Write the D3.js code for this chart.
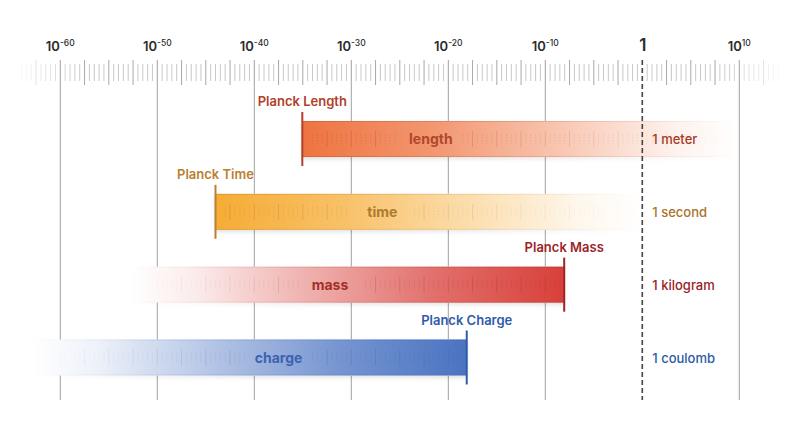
<!DOCTYPE html>
<html><head><meta charset="utf-8">
<script src="https://cdn.jsdelivr.net/npm/d3@7"></script>
<style>
html,body{margin:0;padding:0;background:#fff;}
svg{display:block;font-family:Inter,Roboto,"Noto Sans",sans-serif;}
</style></head>
<body>
<svg id="chart" width="800" height="424"></svg>
<script>
// ---- data ----
const majorExponents = [-60, -50, -40, -30, -20, -10, 0, 10];
const majorLabels = ["-60", "-50", "-40", "-30", "-20", "-10", "1", "10"];
const quantities = ["length", "time", "mass", "charge"];
const planckLabels = ["Planck Length", "Planck Time", "Planck Mass", "Planck Charge"];
const planckExponent = [-35.05, -44.0, -8.05, -18.1];   // log10 of Planck unit (as drawn)
const fadeExponent = [9.75, -0.2, -52.8, -62.8];        // where the bar fades out
const labelExponent = [-21.8, -26.8, -32.2, -37.5];     // where the in-bar name sits
const unitLabels = ["1 meter", "1 second", "1 kilogram", "1 coulomb"];
const barColors = ["#ee7440", "#f6ac35", "#d8403a", "#4a73c1"];
const textColors = ["#b2472f", "#b07a2c", "#a3302b", "#3c63b0"];
const planckColors = ["#b0402a", "#b88031", "#9c2428", "#2f5baa"];
const unitColors = ["#a63a26", "#a8742a", "#9b2226", "#2c5aa8"];

const svg = d3.select("#chart");
const x = d3.scaleLinear().domain([-60, 10]).range([60.3, 739.3]);
const y = d3.scalePoint().domain(quantities).range([139, 357.5]);
const barH = 36;
const rulerTop = 60, gridBottom = 400;

const defs = svg.append("defs");
const shadow = defs.append("filter").attr("id", "shadow")
  .attr("x", "-5%").attr("y", "-30%").attr("width", "110%").attr("height", "170%");
shadow.append("feDropShadow").attr("dx", 0).attr("dy", 2).attr("stdDeviation", 2)
  .attr("flood-color", "#000").attr("flood-opacity", 0.13);

// ---- ruler ticks ----
const edgeFade = px => Math.max(0, Math.min(1, (px - 14) / 70, (786 - px) / 70));
const small = d3.range(-64, 14.01, 0.5).filter(e => Math.abs(e % 2.5) > 1e-6);
const medium = d3.range(-62.5, 12.51, 2.5).filter(e => Math.abs(e % 10) > 1e-6);
const g = svg.append("g");
g.selectAll("line.small").data(small).join("line")
  .attr("x1", d => x(d)).attr("x2", d => x(d))
  .attr("y1", 64).attr("y2", 81)
  .attr("stroke", "#c8c8c8").attr("stroke-width", 1)
  .attr("opacity", d => edgeFade(x(d)));
g.selectAll("line.med").data(medium).join("line")
  .attr("x1", d => x(d)).attr("x2", d => x(d))
  .attr("y1", rulerTop).attr("y2", 85)
  .attr("stroke", "#a8a8a8").attr("stroke-width", 1)
  .attr("opacity", d => edgeFade(x(d)));

// gridlines
g.selectAll("line.grid").data(majorExponents.filter(e => e !== 0)).join("line")
  .attr("x1", d => x(d)).attr("x2", d => x(d))
  .attr("y1", rulerTop).attr("y2", gridBottom)
  .attr("stroke", "#a0a0a0").attr("stroke-width", 1);

// axis labels
const lab = svg.append("g");
majorExponents.forEach((e, i) => {
  const t = lab.append("text").attr("x", x(e)).attr("y", 51)
    .attr("text-anchor", "middle").attr("fill", "#2b2b2b").attr("font-weight", 600);
  if (e === 0) {
    t.attr("font-size", 17).attr("x", x(e) + 0.5).text("1");
  } else {
    t.attr("font-size", 13);
    t.append("tspan").text("10");
    t.append("tspan").attr("font-size", 8.5).attr("dy", -5).attr("font-weight", 500).text(majorLabels[i]);
  }
});

// ---- bars ----
quantities.forEach((q, i) => {
  const p = x(planckExponent[i]), f = x(fadeExponent[i]);
  const cy = y(q), top = cy - barH / 2;
  const x0 = Math.min(p, f), x1 = Math.max(p, f);
  const gid = "grad" + i, tid = "tgrad" + i, sid = "sgrad" + i, mid = "mask" + i;
  const gr = defs.append("linearGradient").attr("id", gid)
    .attr("gradientUnits", "userSpaceOnUse")
    .attr("x1", p).attr("x2", f).attr("y1", 0).attr("y2", 0);
  [[0, 1], [0.3, 0.75], [0.6, 0.4], [0.85, 0.1], [1, 0]].forEach(([o, a]) =>
    gr.append("stop").attr("offset", o).attr("stop-color", barColors[i]).attr("stop-opacity", a));
  const tg = defs.append("linearGradient").attr("id", tid)
    .attr("gradientUnits", "userSpaceOnUse")
    .attr("x1", p).attr("x2", f).attr("y1", 0).attr("y2", 0);
  [[0, 0.35], [0.5, 0.22], [0.85, 0.08], [1, 0]].forEach(([o, a]) =>
    tg.append("stop").attr("offset", o).attr("stop-color", textColors[i]).attr("stop-opacity", a));
  // mask that fades the shadow toward the faded end
  const sg = defs.append("linearGradient").attr("id", sid)
    .attr("gradientUnits", "userSpaceOnUse")
    .attr("x1", p).attr("x2", f).attr("y1", 0).attr("y2", 0);
  [[0, 1], [0.5, 0.8], [0.9, 0.15], [1, 0]].forEach(([o, a]) =>
    sg.append("stop").attr("offset", o).attr("stop-color", "#fff").attr("stop-opacity", a));
  defs.append("mask").attr("id", mid).attr("maskUnits", "userSpaceOnUse")
    .attr("x", 0).attr("y", 0).attr("width", 800).attr("height", 424)
    .append("rect").attr("x", 0).attr("y", 0).attr("width", 800).attr("height", 424)
    .attr("fill", "url(#" + sid + ")");

  const bg = svg.append("g");
  bg.append("rect").attr("x", x0).attr("y", top).attr("width", x1 - x0).attr("height", barH)
    .attr("fill", "#fff").attr("filter", "url(#shadow)").attr("mask", "url(#" + mid + ")");
  // white backing to hide gridlines under bar
  bg.append("rect").attr("x", x0).attr("y", top).attr("width", x1 - x0).attr("height", barH)
    .attr("fill", "#fff");
  bg.append("rect").attr("x", x0).attr("y", top).attr("width", x1 - x0).attr("height", barH)
    .attr("fill", "url(#" + gid + ")");
  // edge lines
  [top + 0.5, top + barH - 0.5].forEach(yy =>
    bg.append("line").attr("x1", x0).attr("x2", x1).attr("y1", yy).attr("y2", yy)
      .attr("stroke", "url(#" + tid + ")").attr("stroke-width", 1));

  // inner ruler ticks
  const lx = x(labelExponent[i]);
  const ticks = d3.range(-64, 14.01, 0.5)
    .filter(e => x(e) > x0 + 6 && x(e) < x1 - 6 && Math.abs(x(e) - lx) > 32);
  const isMed = d => Math.abs(d % 2.5) < 1e-6;
  bg.selectAll("line.t").data(ticks).join("line")
    .attr("x1", d => x(d)).attr("x2", d => x(d))
    .attr("y1", d => isMed(d) ? cy - 8 : cy - 5)
    .attr("y2", d => isMed(d) ? cy + 8 : cy + 5)
    .attr("stroke", "url(#" + tid + ")").attr("stroke-width", 1)
    .attr("stroke-dasharray", d => isMed(d) ? null : "2,1")
    .attr("opacity", d => isMed(d) ? 1 : 0.6);

  // name in bar
  bg.append("text").attr("x", lx).attr("y", cy + 5).attr("text-anchor", "middle")
    .attr("font-size", 14).attr("font-weight", 700).attr("fill", textColors[i]).text(q);

  // marker
  bg.append("line").attr("x1", p).attr("x2", p).attr("y1", top - 9).attr("y2", top + barH + 9)
    .attr("stroke", planckColors[i]).attr("stroke-width", 2);
  bg.append("text").attr("x", p).attr("y", top - 15).attr("text-anchor", "middle")
    .attr("font-size", 13).attr("font-weight", 600).attr("fill", planckColors[i]).text(planckLabels[i]);

  // unit label
  svg.append("text").attr("x", x(0) + 10).attr("y", cy + 5)
    .attr("font-size", 13).attr("font-weight", 500).attr("fill", unitColors[i]).text(unitLabels[i]);
});

// dashed line at 1
svg.append("line").attr("x1", x(0)).attr("x2", x(0)).attr("y1", rulerTop).attr("y2", gridBottom)
  .attr("stroke", "#444").attr("stroke-width", 1.6).attr("stroke-dasharray", "5,3");
</script>
</body></html>
